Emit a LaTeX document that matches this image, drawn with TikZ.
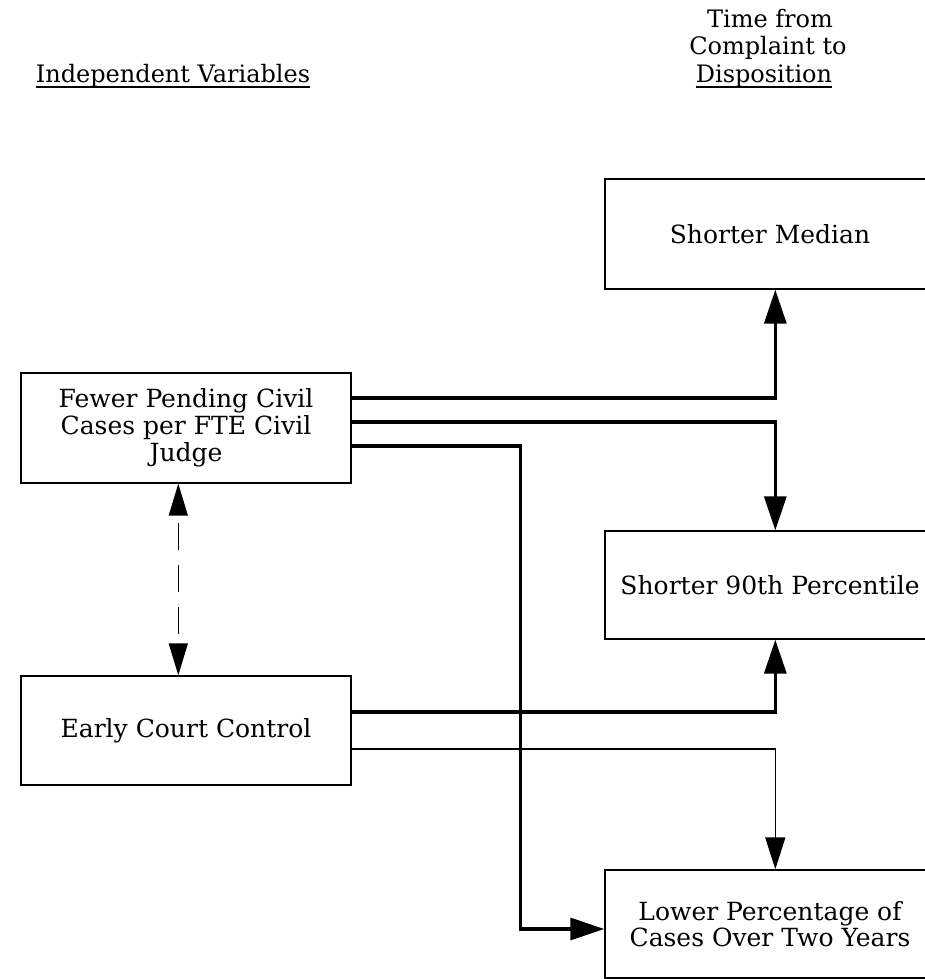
\documentclass[tikz,border=0pt]{standalone}
\usepackage{fontspec}
\setmainfont{DejaVu Serif}
\usetikzlibrary{arrows.meta,calc}
\newcommand{\mytext}{\fontsize{25}{27}\selectfont}
\newcommand{\myhead}{\fontsize{24}{27}\selectfont}
\begin{document}
\begin{tikzpicture}[x=1pt,y=-1pt,
  box/.style={draw,line width=1.4pt,minimum width=330pt,minimum height=110pt,align=center,inner sep=0pt,font=\mytext},
  thickconn/.style={line width=3.3pt,-{Triangle[length=34pt,width=22pt]}},
  thinconn/.style={line width=1.6pt,-{Triangle[length=32pt,width=20pt]}},
  dashconn/.style={line width=1.5pt,dash pattern=on 27pt off 15pt,dash phase=34pt,{Triangle[length=32pt,width=19pt]}-{Triangle[length=32pt,width=19pt]}},
  hdr/.style={font=\myhead,inner sep=0pt,anchor=base},
  uline/.style={line width=1.2pt}]
\clip (0,0) rectangle (925,979);
\fill[white] (0,0) rectangle (925,979);
% headers
\node[hdr] (h1) at (173,83) {Independent Variables};
\draw[uline] ([yshift=-4pt]h1.base west) -- ([yshift=-4pt]h1.base east);
\node[hdr] (h2) at (770,28) {Time from};
\node[hdr] (h3) at (768,55) {Complaint to};
\node[hdr] (h4) at (764,83) {Disposition};
\draw[uline] ([yshift=-4pt]h4.base west) -- ([yshift=-4pt]h4.base east);
% boxes
\node[box] (A) at (186,428) {Fewer Pending Civil\\Cases per FTE Civil\\Judge};
\node[box,minimum height=109pt] (B) at (186,730.5) {Early Court Control};
\node[box] (M) at (770,234) {Shorter Median};
\node[box,minimum height=108pt] (P) at (770,585) {Shorter 90th Percentile};
\node[box,minimum height=108pt,font=\fontsize{25}{26}\selectfont] (L) at (770,924) {Lower Percentage of\\Cases Over Two Years};
% connectors
\draw[thickconn] ([yshift=30pt]A.east) -| ([xshift=171pt]M.south west);
\draw[thickconn] ([yshift=6pt]A.east) -| ([xshift=171pt]P.north west);
\draw[thickconn] ([yshift=-18pt]A.east) -| ([xshift=-84pt,yshift=-5pt]L.west) -- ([yshift=-5pt]L.west);
\draw[thickconn] ([yshift=18.5pt]B.east) -| ([xshift=171pt]P.south west);
\draw[thinconn] ([yshift=-18.5pt]B.east) -| ([xshift=171pt]L.north west);
\draw[dashconn] ([xshift=158pt]A.south west) -- ([xshift=158pt]B.north west);
\end{tikzpicture}
\end{document}
